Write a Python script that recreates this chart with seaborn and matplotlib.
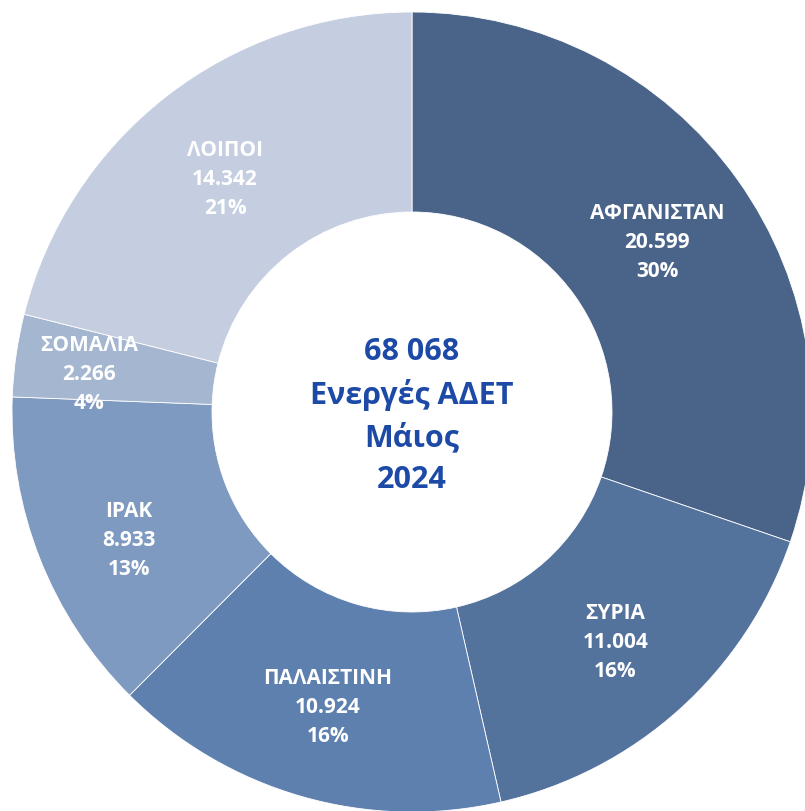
import numpy as np
import matplotlib
matplotlib.use('Agg')
from matplotlib import pyplot as plt
import seaborn as sns

countries = ["ΑΦΓΑΝΙΣΤΑΝ", "ΣΥΡΙΑ", "ΠΑΛΑΙΣΤΙΝΗ", "ΙΡΑΚ", "ΣΟΜΑΛΙΑ", "ΛΟΙΠΟΙ"]
counts = [20599, 11004, 10924, 8933, 2266, 14342]
count_labels = ["20.599", "11.004", "10.924", "8.933", "2.266", "14.342"]
pct_labels = ["30%", "16%", "16%", "13%", "4%", "21%"]
colors = ["#4a6489", "#53729c", "#5e80ae", "#7f9ac0", "#a5b6d0", "#c4cee0"]
center_lines = ["68 068", "Ενεργές ΑΔΕΤ", "Μάιος", "2024"]

# small nudges (pixels) so labels sit where the original placed them
label_shift = {"ΑΦΓΑΝΙΣΤΑΝ": (-2, -7), "ΣΥΡΙΑ": (0, -4), "ΠΑΛΑΙΣΤΙΝΗ": (0, -3),
               "ΙΡΑΚ": (0, -17), "ΣΟΜΑΛΙΑ": (-2, -8), "ΛΟΙΠΟΙ": (0, -7)}

sns.set_theme(style="white")
plt.rcParams['font.family'] = ['Open Sans', 'DejaVu Sans']

W, H = 805, 811
fig = plt.figure(figsize=(W / 100, H / 100), dpi=100)
ax = fig.add_axes([0, 0, 1, 1])

cx, cy = 412, H - 412
R = 400

ax.pie(counts, colors=colors, startangle=90, counterclock=False,
       radius=R, center=(cx, cy),
       wedgeprops=dict(width=R * 0.5, edgecolor='white', linewidth=0.6),
       frame=True)
ax.set_xlim(0, W)
ax.set_ylim(0, H)
ax.set_aspect('equal')
ax.axis('off')

# labels inside each ring segment
total = sum(counts)
start = 90.0
for i, c in enumerate(counts):
    span = 360.0 * c / total
    mid = np.deg2rad(start - span / 2)
    start -= span
    r = R * (0.81 if countries[i] == "ΣΟΜΑΛΙΑ" else 0.76)
    dx, dy = label_shift.get(countries[i], (0, 0))
    x = cx + r * np.cos(mid) + dx
    y = cy + r * np.sin(mid) + dy
    ax.text(x, y, f"{countries[i]}\n{count_labels[i]}\n{pct_labels[i]}",
            ha='center', va='center', color='white', fontsize=15,
            fontweight='bold', linespacing=1.5)

ax.text(cx, cy - 4, "\n".join(center_lines), ha='center', va='center',
        color='#1c4aa6', fontsize=22, fontweight='bold', linespacing=1.5)

fig.savefig("out.png", dpi=100)
